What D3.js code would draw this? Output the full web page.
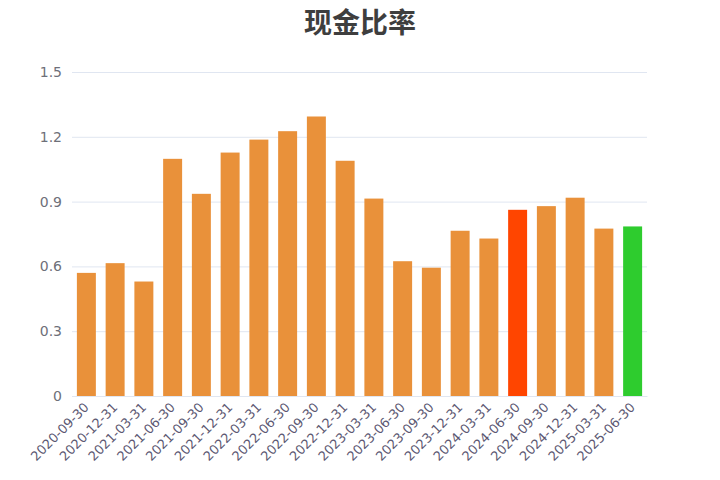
<!DOCTYPE html>
<html><head><meta charset="utf-8">
<script src="https://cdn.jsdelivr.net/npm/d3@7"></script>
<style>body{margin:0;background:#fff;}svg{display:block;}</style>
</head><body>
<svg id="c" width="720" height="480"></svg>
<script>
const categories = ["2020-09-30","2020-12-31","2021-03-31","2021-06-30","2021-09-30","2021-12-31","2022-03-31","2022-06-30","2022-09-30","2022-12-31","2023-03-31","2023-06-30","2023-09-30","2023-12-31","2024-03-31","2024-06-30","2024-09-30","2024-12-31","2025-03-31","2025-06-30"];
const values = [0.57,0.615,0.53,1.098,0.936,1.127,1.187,1.226,1.294,1.089,0.914,0.624,0.594,0.765,0.729,0.862,0.879,0.918,0.775,0.785];
const highlightLow = "2024-06-30";
const highlightLatest = "2025-06-30";
const yTicks = [0,0.3,0.6,0.9,1.2,1.5];
const title = "现金比率";

const svg = d3.select("#c");
const m = {left:72, right:73, top:72, bottom:84};
const W = 720, H = 480;
const x = d3.scaleBand().domain(categories).range([m.left, W-m.right]).paddingInner(0.34).paddingOuter(0.17);
const y = d3.scaleLinear().domain([0,1.5]).range([H-m.bottom, m.top]);
const FONT = "'DejaVu Sans', sans-serif";

svg.append("text").attr("x",360).attr("y",33).attr("text-anchor","middle")
  .attr("font-family","'Noto Sans CJK SC',sans-serif").attr("font-weight","bold")
  .attr("font-size",28).attr("fill","#3e3e3e").text(title);

// grid
const yAxis = d3.axisLeft(y).tickValues(yTicks).tickSize(-(W-m.left-m.right)).tickPadding(10)
  .tickFormat(d => d===0 ? "0" : d3.format(".1f")(d));
const gy = svg.append("g").attr("transform",`translate(${m.left},0)`).call(yAxis)
  .attr("font-family",FONT).attr("font-size",14);
gy.select(".domain").remove();
gy.selectAll(".tick line").attr("stroke","#e0e6f1");
gy.selectAll(".tick text").attr("fill","#6e7079");

svg.append("g").selectAll("rect").data(categories).join("rect")
  .attr("x", d=>x(d)).attr("width", x.bandwidth())
  .attr("y", (d,i)=>y(values[i])).attr("height",(d,i)=>y(0)-y(values[i]))
  .attr("fill", d => d===highlightLow ? "#ff4500" : d===highlightLatest ? "#2ecc2e" : "#e9913a");

const xAxis = d3.axisBottom(x).tickSize(0).tickPadding(0);
const gx = svg.append("g").attr("transform",`translate(0,${y(0)})`).call(xAxis)
  .attr("font-family",FONT).attr("font-size",13);
gx.select(".domain").attr("stroke","#e0e6f1");
gx.selectAll(".tick text").attr("fill","#5c5872")
  .attr("text-anchor","end").attr("y",0).attr("dy","0.35em")
  .attr("transform","translate(0,9) rotate(-45)");
</script>
</body></html>
